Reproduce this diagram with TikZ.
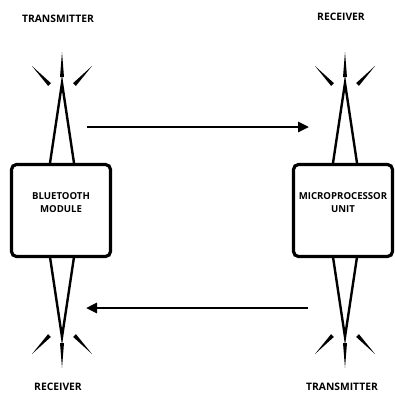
\documentclass[tikz,border=0pt]{standalone}
\usepackage{fontspec}
\setmainfont{Open Sans}
\usetikzlibrary{arrows.meta}

\tikzset{
  box/.style={draw,line width=3.2pt,rounded corners=5pt,minimum width=99pt,minimum height=92pt,
    align=center,font=\fontsize{9.6}{13}\selectfont\bfseries,text depth=15pt},
  tag/.style={font=\fontsize{10.3}{11}\selectfont\bfseries},
  arr/.style={line width=2.6pt,-{Triangle[length=11pt,width=10pt]}},
  antenna/.pic={
    \draw[line width=2.4pt,miter limit=20] (-12,80) -- (0,0) -- (12,80);
    \fill (-2,-6) -- (0,-31) -- (2,-6) -- cycle;
    \fill (11.1,0.1) -- (30,-17) -- (13.9,2.9) -- cycle;
    \fill (-11.1,0.1) -- (-30,-17) -- (-13.9,2.9) -- cycle;
  }
}

\begin{document}
\begin{tikzpicture}[x=1pt,y=-1pt]
\useasboundingbox (0,0) rectangle (395,394);
\pic at (62,83) {antenna};
\pic at (345,83) {antenna};
\pic[yscale=-1] at (62,337) {antenna};
\pic[yscale=-1] at (345,337) {antenna};
\node[box,fill=white] at (61,210.5) (bt) {BLUETOOTH\\MODULE};
\node[box,fill=white] at (343,210.5) (mcu) {MICROPROCESSOR\\UNIT};
\node[tag] at (58,19) (tx1) {TRANSMITTER};
\node[tag] at (341,17) (rx1) {RECEIVER};
\node[tag] at (58,387) (rx2) {RECEIVER};
\node[tag] at (342,387) (tx2) {TRANSMITTER};
\coordinate (a1) at (87,127);
\coordinate (b1) at (309,127);
\coordinate (a2) at (308,308);
\coordinate (b2) at (86,308);
\draw[arr] (a1) -- (b1);
\draw[arr] (a2) -- (b2);
\end{tikzpicture}
\end{document}
